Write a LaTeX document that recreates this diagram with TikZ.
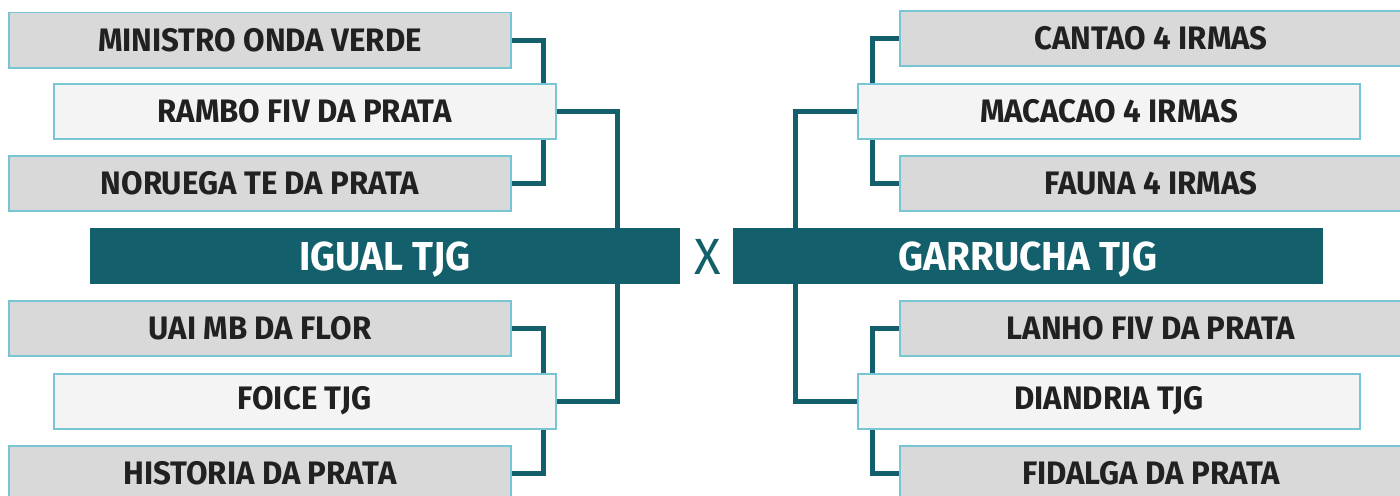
\documentclass[tikz,border=0pt]{standalone}
\usepackage{fontspec}
\setmainfont{Fira Sans}[FakeStretch=0.96]

\definecolor{teal}{HTML}{135F6B}
\definecolor{cyanline}{HTML}{78C6D3}
\definecolor{boxgray}{HTML}{D9D9D9}
\definecolor{boxlight}{HTML}{F4F4F4}

\tikzset{
	horse/.style={rectangle,draw=cyanline,line width=0.04cm,fill=boxgray,
		minimum width=10.04cm,minimum height=1.1cm,inner sep=0pt,
		text=black!87,font=\fontsize{18.5}{20}\selectfont\bfseries},
	sire/.style={horse,fill=boxlight},
	finalist/.style={rectangle,fill=teal,minimum width=11.8cm,minimum height=1.12cm,
		inner sep=0pt,text depth=0pt,text=white,font=\fontsize{23}{25}\selectfont\bfseries},
	link/.style={draw=teal,line width=0.1cm}
}

\begin{document}
\begin{tikzpicture}
				\useasboundingbox (0,0) rectangle (28,-9.9);
				
				% left side
				\node[horse] (min) at (5.2,-0.8) {MINISTRO ONDA VERDE};
				\node[sire] (rambo) at (6.09,-2.23) {RAMBO FIV DA PRATA};
				\node[horse] (nor) at (5.2,-3.66) {NORUEGA TE DA PRATA};
				\node[finalist] (igual) at (7.7,-5.12) {IGUAL TJG};
				\node[horse] (uai) at (5.2,-6.57) {UAI MB DA FLOR};
				\node[sire] (foice) at (6.09,-8.02) {FOICE TJG};
				\node[horse] (hist) at (5.2,-9.46) {HISTORIA DA PRATA};
				
				\node[text=teal,text depth=0pt,font=\fontsize{29}{31}\selectfont] (x) at (14.15,-5.14) {X};
				
				% right side
				\node[horse] (cantao) at (23.02,-0.77) {CANTAO 4 IRMAS};
				\node[sire] (macacao) at (22.18,-2.23) {MACACAO 4 IRMAS};
				\node[horse] (fauna) at (23.02,-3.66) {FAUNA 4 IRMAS};
				\node[finalist] (garrucha) at (20.56,-5.12) {GARRUCHA TJG};
				\node[horse] (lanho) at (23.02,-6.57) {LANHO FIV DA PRATA};
				\node[sire] (diandria) at (22.18,-8.02) {DIANDRIA TJG};
				\node[horse] (fidalga) at (23.02,-9.46) {FIDALGA DA PRATA};
				
				\draw[link] (min.east) -| ([xshift=-0.26cm]rambo.north east);
				\draw[link] (nor.east) -| ([xshift=-0.26cm]rambo.south east);
				\draw[link] (rambo.east) -| ([xshift=-1.26cm]igual.north east);
				\draw[link] ([xshift=-1.26cm]igual.south east) |- (foice.east);
				\draw[link] (uai.east) -| ([xshift=-0.26cm]foice.north east);
				\draw[link] (hist.east) -| ([xshift=-0.26cm]foice.south east);
				
				\draw[link] (cantao.west) -| ([xshift=0.3cm]macacao.north west);
				\draw[link] (fauna.west) -| ([xshift=0.3cm]macacao.south west);
				\draw[link] (macacao.west) -| ([xshift=1.26cm]garrucha.north west);
				\draw[link] ([xshift=1.26cm]garrucha.south west) |- (diandria.west);
				\draw[link] (lanho.west) -| ([xshift=0.3cm]diandria.north west);
				\draw[link] (fidalga.west) -| ([xshift=0.3cm]diandria.south west);
			\end{tikzpicture}
\end{document}
